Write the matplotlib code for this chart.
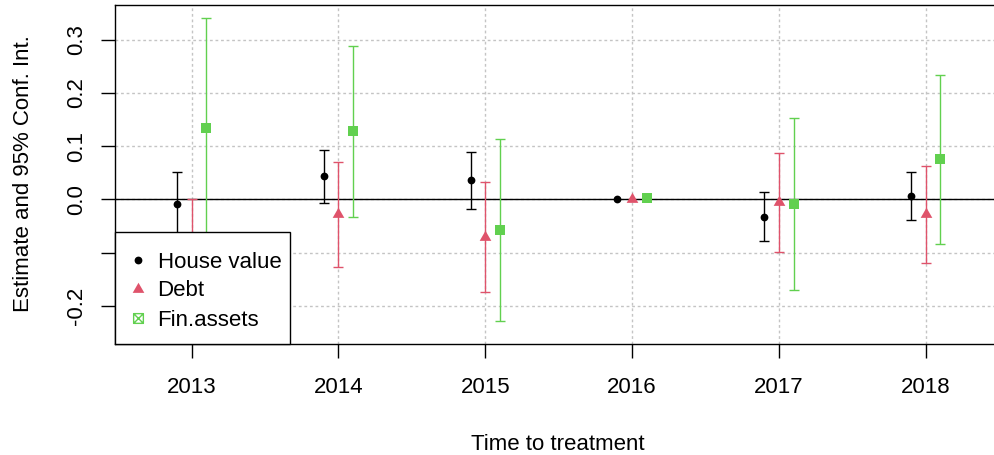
import numpy as np
import matplotlib
matplotlib.use('Agg')
import matplotlib.pyplot as plt
from matplotlib.lines import Line2D
from matplotlib.patches import Rectangle
from matplotlib.path import Path

plt.rcParams['font.family'] = ['Liberation Sans', 'DejaVu Sans']
plt.rcParams['font.size'] = 16

years = [2013, 2014, 2015, 2016, 2017, 2018]

# event-study estimates with 95% bounds
house_est = [-0.008, 0.044, 0.036, 0.0, -0.033, 0.007]
house_lo = [-0.070, -0.006, -0.019, 0.0, -0.078, -0.038]
house_hi = [0.051, 0.092, 0.089, 0.0, 0.013, 0.051]

debt_est = [-0.120, -0.028, -0.071, 0.0, -0.005, -0.028]
debt_lo = [-0.240, -0.127, -0.174, 0.0, -0.098, -0.120]
debt_hi = [0.000, 0.070, 0.032, 0.0, 0.087, 0.063]

fin_est = [0.133, 0.128, -0.057, 0.003, -0.009, 0.075]
fin_lo = [-0.074, -0.033, -0.228, 0.003, -0.171, -0.084]
fin_hi = [0.340, 0.288, 0.114, 0.003, 0.152, 0.233]

labels = ['House value', 'Debt', 'Fin.assets']
colors = ['#000000', '#DF536B', '#61D04F']

ytick_vals = [-0.2, -0.1, 0.0, 0.1, 0.2, 0.3]
ytick_labels = ['-0.2', '', '0.0', '0.1', '0.2', '0.3']

# R style markers: filled circle, equilateral triangle, filled square
tri = [(0, 1), (-0.866, -0.5), (0.866, -0.5)]
box_x = Path([(-1, -1), (1, -1), (1, 1), (-1, 1), (-1, -1), (-1, -1), (1, 1), (-1, 1), (1, -1)],
             [Path.MOVETO, Path.LINETO, Path.LINETO, Path.LINETO, Path.CLOSEPOLY,
              Path.MOVETO, Path.LINETO, Path.MOVETO, Path.LINETO])

series = [
    (house_est, house_lo, house_hi, -0.1, 'o', 5.6),
    (debt_est, debt_lo, debt_hi, 0.0, tri, 9.7),
    (fin_est, fin_lo, fin_hi, 0.1, 's', 6.5),
]

W, H = 995, 455
fig = plt.figure(figsize=(W / 100, H / 100), dpi=100)
ax = fig.add_axes([0.1159, 0.245, 0.8882, 0.744])

ax.set_xlim(2012.48, 2018.5)
ax.set_ylim(-0.2707, 0.3648)
ax.set_xticks(years)
ax.set_yticks(ytick_vals)
ax.set_yticklabels(ytick_labels)
ax.grid(True, color='#c4c4c4', linestyle=(0, (2, 2)), linewidth=1.0)
ax.set_axisbelow(True)
ax.axhline(0, color='black', linewidth=1.0, zorder=1)

for (est, lo, hi, off, mk, ms), col in zip(series, colors):
    x = np.array(years) + off
    est = np.array(est)
    lo = np.array(lo)
    hi = np.array(hi)
    m = hi > lo
    ax.errorbar(x[m], est[m], yerr=[est[m] - lo[m], hi[m] - est[m]], fmt='none',
                ecolor=col, elinewidth=1.0, capsize=3.6, capthick=1.0, zorder=2)
    ax.plot(x, est, linestyle='none', marker=mk, color=col, markersize=ms,
            markeredgewidth=0, zorder=3)

ax.tick_params(axis='both', direction='out', length=10, width=1.0, colors='black')
ax.tick_params(axis='x', pad=14)
ax.tick_params(axis='y', pad=10.5, labelrotation=90)
for lbl in ax.get_yticklabels():
    lbl.set_verticalalignment('center')
for s in ax.spines.values():
    s.set_linewidth(1.0)
    s.set_color('black')

fig.text(29.5 / W, 1 - 173.5 / H, 'Estimate and 95% Conf. Int.', rotation=90,
         rotation_mode='anchor', ha='center', va='baseline')
fig.text(557.5 / W, 1 - 450 / H, 'Time to treatment', ha='center', va='baseline')

# legend box drawn separately so it can sit flush in the lower-left corner
frame = Rectangle((115.3 / W, 1 - 343.5 / H), (290 - 115.3) / W, (343.5 - 232.3) / H,
                  transform=fig.transFigure, facecolor='white', edgecolor='black',
                  linewidth=1.0, zorder=5)
fig.add_artist(frame)

handles = [
    Line2D([], [], linestyle='none', marker='o', color=colors[0], markersize=5.6, markeredgewidth=0),
    Line2D([], [], linestyle='none', marker=tri, color=colors[1], markersize=9.7, markeredgewidth=0),
    Line2D([], [], linestyle='none', marker=box_x, markerfacecolor='none',
           markeredgecolor=colors[2], markersize=7, markeredgewidth=1.0),
]
leg = fig.legend(handles, labels, loc='center left',
                 bbox_to_anchor=(115.3 / W, 1 - 291 / H), borderaxespad=0,
                 frameon=False, borderpad=0.6, handlelength=0.8,
                 handletextpad=0.5, labelspacing=0.36)
leg.set_zorder(6)

fig.savefig('out.png', dpi=100)
